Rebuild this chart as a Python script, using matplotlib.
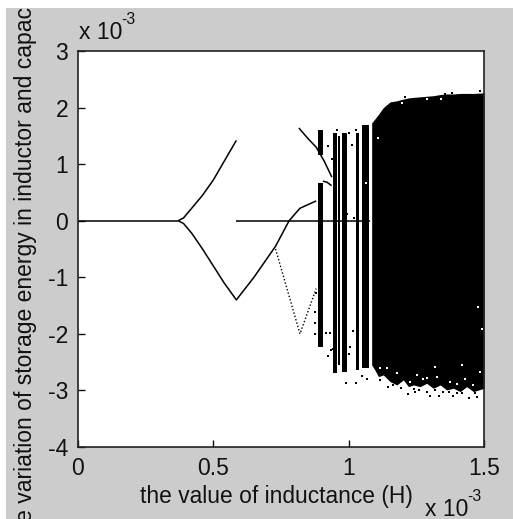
import matplotlib
matplotlib.use("Agg")
import matplotlib.pyplot as plt
from matplotlib.patches import Rectangle

plt.rcParams['font.family'] = ['Liberation Sans', 'DejaVu Sans']

# all values in units of 1e-3
flat_x = [0, 0.37]
flat_y = [0, 0]
upper_x = [0.37, 0.39, 0.42, 0.46, 0.50, 0.54, 0.585]
upper_y = [0, 0.05, 0.22, 0.45, 0.72, 1.05, 1.42]
lower_x = [0.37, 0.39, 0.42, 0.46, 0.50, 0.54, 0.585, 0.65, 0.73, 0.78, 0.82, 0.88]
lower_y = [0, -0.05, -0.22, -0.5, -0.8, -1.1, -1.4, -1.0, -0.45, 0.0, 0.22, 0.35]
mid_x = [0.585, 1.08]
mid_y = [0, 0]
dotted_x = [0.73, 0.76, 0.79, 0.82, 0.85, 0.88]
dotted_y = [-0.5, -1.0, -1.5, -2.0, -1.6, -1.2]
falling_x = [0.816, 0.85, 0.88, 0.91, 0.938]
falling_y = [1.64, 1.45, 1.3, 1.05, 0.77]
link_x = [0.905, 0.92, 0.937]
link_y = [0.7, 0.68, 0.62]

band_left = [0.887, 0.887, 0.942, 0.960, 0.975, 1.027, 1.05]
band_right = [0.905, 0.905, 0.956, 0.968, 0.993, 1.04, 1.075]
band_low = [1.16, -2.23, -2.7, -2.55, -2.67, -2.64, -2.6]
band_high = [1.6, 0.66, 1.55, 1.5, 1.55, 1.55, 1.69]

mass_x = [1.085, 1.097, 1.110, 1.128, 1.153, 1.178, 1.202, 1.221, 1.239, 1.264,
          1.288, 1.313, 1.338, 1.362, 1.387, 1.412, 1.436, 1.461, 1.5]
mass_top = [1.73, 1.80, 1.88, 2.0, 2.1, 2.12, 2.15, 2.17, 2.18, 2.19,
            2.2, 2.21, 2.23, 2.24, 2.24, 2.25, 2.25, 2.25, 2.26]
mass_bottom = [-2.55, -2.64, -2.756, -2.726, -2.844, -2.903, -2.815, -2.933, -2.903, -2.933,
               -2.874, -2.962, -2.903, -2.991, -2.962, -3.021, -2.933, -3.021, -2.962]

black_x = [1.221, 1.245, 1.301, 1.335, 1.387, 1.445, 1.473, 1.418, 1.147, 1.116, 1.069, 1.048,
           1.027, 0.989, 1.116, 1.128, 1.180, 1.101, 1.114, 1.095, 1.095, 1.003, 1.005, 1.015,
           0.925, 0.934, 0.943, 0.931, 0.916, 0.876, 0.876, 0.876, 0.879,
           1.208, 1.356, 1.381, 1.486, 0.956, 1.003, 0.925, 0.937, 1.027, 1.011, 1.020, 0.992,
           1.260, 1.290, 1.350, 1.400, 1.165, 1.195, 1.240, 1.320, 1.370, 1.465]
black_y = [-3.062, -3.021, -3.091, -3.097, -3.097, -3.139, -3.109, -3.050, -2.933, -2.815, -2.803, -2.738,
           -2.862, -2.862, -2.473, -2.473, -2.579, -2.167, -2.267, -1.949, -1.566, -2.355, -2.226, -1.949,
           -2.391, -2.285, -2.273, -1.978, -1.990, -2.002, -1.813, -1.607, -1.283,
           2.18, 2.24, 2.262, 2.292, 1.60, 1.555, 1.32, 1.084, 1.60, 1.337, 0.05, 0.12,
           -3.0, -3.02, -3.03, -3.04, -2.9, -2.95, -2.98, -3.0, -3.03, -3.05]
white_x = [1.227, 1.276, 1.325, 1.375, 1.430, 1.461, 1.178, 1.141, 1.116, 1.251, 1.288, 1.399,
           1.319, 1.418, 1.486, 1.479, 1.492, 1.110, 1.064, 1.196, 1.289, 1.340]
white_y = [-2.85, -2.80, -2.76, -2.85, -2.80, -2.90, -2.70, -2.60, -2.60, -2.726, -2.785, -2.88,
           -2.579, -2.550, -2.667, -1.519, -1.919, 1.455, 0.660, 2.086, 2.145, 2.16]

x_ticks = [0, 0.5, 1, 1.5]
x_labels = ['0', '0.5', '1', '1.5']
y_ticks = [-4, -3, -2, -1, 0, 1, 2, 3]
y_labels = ['-4', '-3', '-2', '-1', '0', '1', '2', '3']

W, H = 513, 519
fig = plt.figure(figsize=(W / 100, H / 100), dpi=100, facecolor='white')
gray = Rectangle((6 / W, 0), 1 - 6 / W, 1 - 8 / H, transform=fig.transFigure,
                 facecolor='#cccccc', edgecolor='none', zorder=-10)
fig.add_artist(gray)
ax = fig.add_axes([78 / W, 1 - 447 / H, 406 / W, 396 / H], facecolor='white')
ax.set_xlim(0, 1.5)
ax.set_ylim(-4, 3)

for xs, ys in [(flat_x, flat_y), (upper_x, upper_y), (lower_x, lower_y), (mid_x, mid_y),
               (falling_x, falling_y), (link_x, link_y)]:
    ax.plot(xs, ys, color='black', lw=1.1, solid_capstyle='butt')
ax.plot(dotted_x, dotted_y, color='black', lw=1.0, ls=(0, (1, 1.5)))

for l, r, lo, hi in zip(band_left, band_right, band_low, band_high):
    ax.fill_between([l, r], [lo, lo], [hi, hi], color='black', lw=0)
ax.fill_between(mass_x, mass_bottom, mass_top, color='black', lw=0)

ax.scatter(black_x, black_y, s=3, marker='s', color='black', lw=0, zorder=4)
ax.scatter(white_x, white_y, s=3, marker='s', color='white', lw=0, zorder=4)

ax.set_xticks(x_ticks, x_labels)
ax.set_yticks(y_ticks, y_labels)
ax.tick_params(direction='in', length=5, width=1, labelsize=16.5, colors='#111111')
ax.tick_params(axis='x', pad=7)
ax.tick_params(axis='y', pad=7)
for s in ax.spines.values():
    s.set_linewidth(1.2)
    s.set_color('#222222')

ylab = fig.text(26 / W, 1 - 258 / H, 'the variation of storage energy in inductor and capacitor',
                rotation=90, ha='center', va='center', fontsize=16.5, color='#111111')
ylab.set_clip_path(gray)
ylab.set_clip_on(True)
fig.text(276 / W, 1 - 497 / H, 'the value of inductance (H)', ha='center', va='center',
         fontsize=16.4, color='#111111')
fig.text(79 / W, 1 - 39 / H, 'x 10', ha='left', va='baseline', fontsize=16.5, color='#111111')
fig.text(121 / W, 1 - 24 / H, '-3', ha='left', va='baseline', fontsize=11.5, color='#111111')
fig.text(425 / W, 1 - 516 / H, 'x 10', ha='left', va='baseline', fontsize=16.5, color='#111111')
fig.text(467 / W, 1 - 501 / H, '-3', ha='left', va='baseline', fontsize=11.5, color='#111111')

fig.savefig('out.png', dpi=100, facecolor=fig.get_facecolor())
